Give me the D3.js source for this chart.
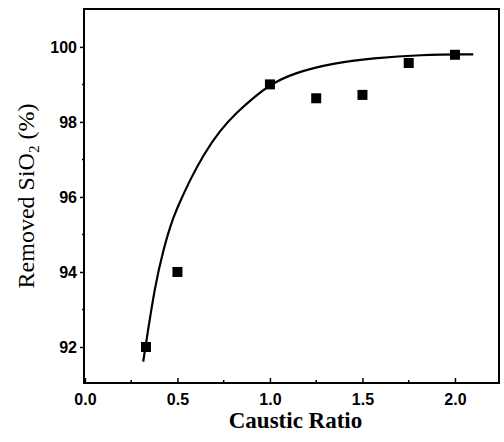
<!DOCTYPE html>
<html>
<head>
<meta charset="utf-8">
<script src="https://cdn.jsdelivr.net/npm/d3@7"></script>
<style>
  html, body { margin: 0; padding: 0; background: #fff; }
  svg { display: block; }
</style>
</head>
<body>
<svg id="chart" width="504" height="442"></svg>
<script>
// Measured caustic ratio vs. removed SiO2
const ratios = [0.33, 0.5, 1.0, 1.25, 1.5, 1.75, 2.0];
const removed = [92.0, 94.0, 99.0, 98.63, 98.72, 99.57, 99.79];

// Fitted trend line
const fitX = [0.315, 0.333, 0.378, 0.423, 0.477, 0.523, 0.568, 0.640, 0.730, 0.820, 0.910, 1.0, 1.126, 1.342, 1.558, 1.811, 2.099];
const fitY = [91.61, 92.19, 93.61, 94.59, 95.47, 95.97, 96.45, 97.12, 97.78, 98.25, 98.64, 98.99, 99.30, 99.57, 99.70, 99.79, 99.80];

// Axis ticks
const xTicks = [0.0, 0.5, 1.0, 1.5, 2.0];
const xTickLabels = ["0.0", "0.5", "1.0", "1.5", "2.0"];
const xMinor = [0.25, 0.75, 1.25, 1.75, 2.25];
const yTicks = [92, 94, 96, 98, 100];
const yMinor = [93, 95, 97, 99];

const svg = d3.select("#chart");
const plotL = 84, plotR = 499, plotT = 9, plotB = 383;

const x = d3.scaleLinear().domain([-0.005, 2.238]).range([plotL, plotR]);
const y = d3.scaleLinear().domain([91.04, 101.01]).range([plotB, plotT]);

// Frame
svg.append("rect")
  .attr("x", plotL).attr("y", plotT)
  .attr("width", plotR - plotL).attr("height", plotB - plotT)
  .attr("fill", "none").attr("stroke", "#000").attr("stroke-width", 2);

const tickFont = "'Liberation Sans', Arial, sans-serif";

// Bottom axis (ticks pointing inward)
const gx = svg.append("g").attr("transform", `translate(0,${plotB})`);
gx.call(d3.axisBottom(x).tickValues(xTicks).tickSize(-5)
  .tickFormat((d, i) => xTickLabels[i]).tickPadding(11));
gx.call(g => g.select(".domain").remove());
gx.selectAll(".tick line").attr("stroke-width", 1.5);
gx.selectAll("text")
  .attr("font-family", tickFont)
  .attr("font-weight", "bold").attr("font-size", 16).attr("fill", "#000");
gx.selectAll(".minor").data(xMinor.filter(v => x(v) < plotR - 2)).enter()
  .append("line").attr("class", "minor")
  .attr("x1", d => x(d)).attr("x2", d => x(d))
  .attr("y1", 0).attr("y2", -3)
  .attr("stroke", "#000").attr("stroke-width", 1.5);

// Left axis (ticks pointing outward)
const gy = svg.append("g").attr("transform", `translate(${plotL},0)`);
gy.call(d3.axisLeft(y).tickValues(yTicks).tickSize(4).tickPadding(3)
  .tickFormat(d3.format("d")));
gy.call(g => g.select(".domain").remove());
gy.selectAll(".tick line").attr("stroke-width", 1.5);
gy.selectAll("text")
  .attr("font-family", tickFont)
  .attr("font-weight", "bold").attr("font-size", 16).attr("fill", "#000");
gy.selectAll(".minor").data(yMinor).enter()
  .append("line").attr("class", "minor")
  .attr("x1", 0).attr("x2", -2)
  .attr("y1", d => y(d)).attr("y2", d => y(d))
  .attr("stroke", "#000").attr("stroke-width", 1.5);

// Trend line
const fit = fitX.map((v, i) => [v, fitY[i]]);
svg.append("path")
  .datum(fit)
  .attr("fill", "none").attr("stroke", "#000").attr("stroke-width", 2.2)
  .attr("d", d3.line().x(d => x(d[0])).y(d => y(d[1])).curve(d3.curveBasis));

// Data markers
const sz = 10;
svg.selectAll(".pt").data(ratios.map((v, i) => [v, removed[i]])).enter()
  .append("rect").attr("class", "pt")
  .attr("x", d => x(d[0]) - sz / 2).attr("y", d => y(d[1]) - sz / 2)
  .attr("width", sz).attr("height", sz).attr("fill", "#000");

// Axis titles
svg.append("text")
  .attr("x", (plotL + plotR) / 2 + 4).attr("y", 428)
  .attr("text-anchor", "middle")
  .attr("font-family", "'Liberation Serif', 'Times New Roman', serif")
  .attr("font-weight", "bold").attr("font-size", 23)
  .text("Caustic Ratio");

const yt = svg.append("text")
  .attr("transform", `translate(34,${(plotT + plotB) / 2}) rotate(-90)`)
  .attr("text-anchor", "middle")
  .attr("font-family", "'Liberation Serif', 'Times New Roman', serif")
  .attr("font-size", 24);
yt.append("tspan").text("Removed SiO");
yt.append("tspan").attr("font-size", 15).attr("dy", 5).text("2");
yt.append("tspan").attr("dy", -5).text(" (%)");
</script>
</body>
</html>
